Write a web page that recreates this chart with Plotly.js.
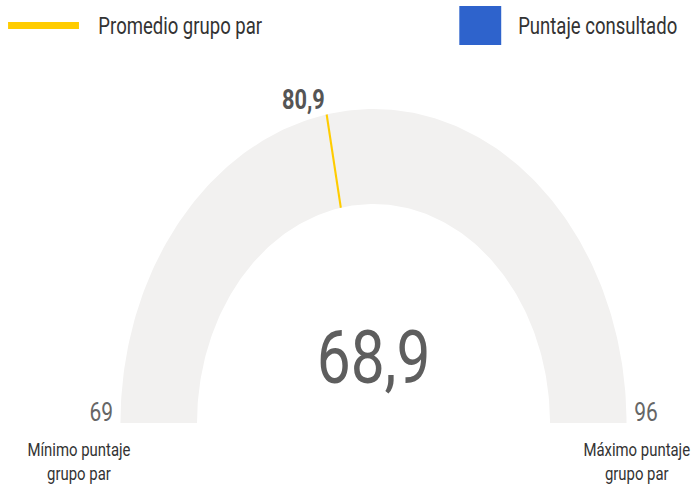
<!DOCTYPE html>
<html>
<head>
<meta charset="utf-8">
<script src="https://cdn.plot.ly/plotly-3.0.1.min.js"></script>
<style>
html,body{margin:0;padding:0;overflow:hidden;background:#fff;}
#chart{width:860px;height:487px;transform:scaleX(0.80581);transform-origin:0 0;}
</style>
</head>
<body>
<div id="chart"></div>
<script>
// ---- data ----
const gaugeRange = [69, 96];          // min / max of peer group
const consultedScore = [68.9];        // score consulted (blue bar)
const peerAverage = [80.9];           // peer group average (yellow threshold)
const legendLabels = ['Promedio grupo par', 'Puntaje consultado'];
const endLabels = ['Mínimo puntaje<br>grupo par', 'Máximo puntaje<br>grupo par'];

// ---- helpers ----
const fmt = v => v.toFixed(1).replace('.', ',');
const fmtInt = v => String(Math.round(v));
const RO = 1.0, RI = 0.6975;
const vmin = gaugeRange[0], vmax = gaugeRange[1];
const angle = v => Math.PI * (1 - (v - vmin) / (vmax - vmin));

function arcBand(v0, v1, n) {
  const xs = [], ys = [];
  for (let i = 0; i <= n; i++) {
    const t = angle(v0 + (v1 - v0) * i / n);
    xs.push(RO * Math.cos(t)); ys.push(RO * Math.sin(t));
  }
  for (let i = n; i >= 0; i--) {
    const t = angle(v0 + (v1 - v0) * i / n);
    xs.push(RI * Math.cos(t)); ys.push(RI * Math.sin(t));
  }
  return {xs, ys};
}

const band = arcBand(vmin, vmax, 180);
const traces = [{
  type: 'scatter', mode: 'lines', x: band.xs, y: band.ys,
  fill: 'toself', fillcolor: '#f2f1f0', line: {width: 0, color: '#f2f1f0'},
  hoverinfo: 'skip'
}];

const clamped = Math.max(vmin, Math.min(vmax, consultedScore[0]));
if (clamped > vmin) {
  const bar = arcBand(vmin, clamped, 90);
  traces.push({
    type: 'scatter', mode: 'lines', x: bar.xs, y: bar.ys,
    fill: 'toself', fillcolor: '#2e63cc', line: {width: 0, color: '#2e63cc'},
    hoverinfo: 'skip'
  });
}

const ta = angle(peerAverage[0]);
traces.push({
  type: 'scatter', mode: 'lines',
  x: [RI * Math.cos(ta), RO * Math.cos(ta)],
  y: [RI * Math.sin(ta), RO * Math.sin(ta)],
  line: {color: '#ffcc00', width: 2.6}, hoverinfo: 'skip'
});

const W = 860, H = 487, CX = 463.5, CY = 423, R = 314;
const xr = [-CX / R, (W - CX) / R];
const yr = [(CY - H) / R, CY / R];

const annotations = [
  {x: 0, y: (CY - 357) / R, text: fmt(consultedScore[0]), showarrow: false,
   xanchor: 'center', yanchor: 'middle', font: {family: 'Roboto', size: 75, color: '#5e5e5e'}},
  {x: RO * Math.cos(ta), y: RO * Math.sin(ta), text: '<b>' + fmt(peerAverage[0]) + '</b>', showarrow: false,
   xanchor: 'right', yanchor: 'bottom', xshift: 0, yshift: -4,
   font: {family: 'Roboto', size: 27, color: '#555555'}},
  {x: -RO, y: 0, text: fmtInt(gaugeRange[0]), showarrow: false, xanchor: 'right', yanchor: 'bottom',
   xshift: -8, yshift: -6, font: {family: 'Roboto', size: 26, color: '#666666'}},
  {x: RO, y: 0, text: fmtInt(gaugeRange[1]), showarrow: false, xanchor: 'left', yanchor: 'bottom',
   xshift: 7, yshift: -6, font: {family: 'Roboto', size: 26, color: '#666666'}},
  {xref: 'paper', yref: 'paper', x: 98 / W, y: 1 - 462 / H, text: endLabels[0], showarrow: false,
   xanchor: 'center', yanchor: 'middle', font: {family: 'Roboto', size: 18.5, color: '#333333'}},
  {xref: 'paper', yref: 'paper', x: 790 / W, y: 1 - 462 / H, text: endLabels[1], showarrow: false,
   xanchor: 'center', yanchor: 'middle', font: {family: 'Roboto', size: 18.5, color: '#333333'}},
  {xref: 'paper', yref: 'paper', x: 120 / W, y: 1 - 26 / H, text: legendLabels[0], showarrow: false,
   xanchor: 'left', yanchor: 'middle', font: {family: 'Roboto', size: 23, color: '#333333'}},
  {xref: 'paper', yref: 'paper', x: 641 / W, y: 1 - 26 / H, text: legendLabels[1], showarrow: false,
   xanchor: 'left', yanchor: 'middle', font: {family: 'Roboto', size: 23, color: '#333333'}}
];

const shapes = [
  {type: 'line', xref: 'paper', yref: 'paper', x0: 10 / W, x1: 98 / W, y0: 1 - 25.5 / H, y1: 1 - 25.5 / H,
   line: {color: '#ffcc00', width: 7}},
  {type: 'rect', xref: 'paper', yref: 'paper', x0: 570 / W, x1: 622 / W, y0: 1 - 45 / H, y1: 1 - 6 / H,
   fillcolor: '#2e63cc', line: {width: 0}}
];

const layout = {
  width: W, height: H, margin: {l: 0, r: 0, t: 0, b: 0},
  paper_bgcolor: '#ffffff', plot_bgcolor: '#ffffff', showlegend: false,
  xaxis: {range: xr, visible: false, fixedrange: true},
  yaxis: {range: yr, visible: false, fixedrange: true},
  annotations, shapes
};

Plotly.newPlot('chart', traces, layout, {staticPlot: true, displayModeBar: false});
</script>
</body>
</html>
